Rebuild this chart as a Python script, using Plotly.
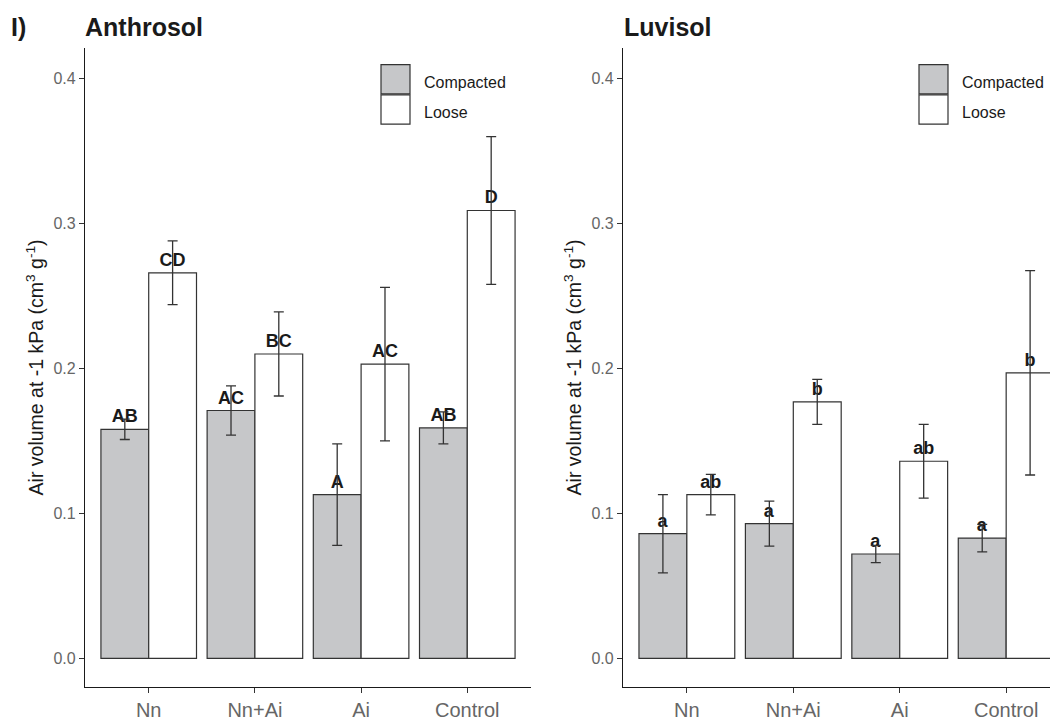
import plotly.graph_objects as go

# The page body has an 8px margin, so the figure is drawn 8px in from the window edge.
OFF = 8
W, H = 1058 - OFF, 721 - OFF

categories = ["Nn", "Nn+Ai", "Ai", "Control"]
groups = ["Compacted", "Loose"]

# Anthrosol
anth_compacted = [0.158, 0.171, 0.113, 0.159]
anth_compacted_err = [0.007, 0.017, 0.035, 0.011]
anth_loose = [0.266, 0.210, 0.203, 0.309]
anth_loose_err = [0.022, 0.029, 0.053, 0.051]
anth_compacted_lbl = ["AB", "AC", "A", "AB"]
anth_loose_lbl = ["CD", "BC", "AC", "D"]

# Luvisol
luv_compacted = [0.086, 0.093, 0.072, 0.083]
luv_compacted_err = [0.027, 0.0155, 0.006, 0.0095]
luv_loose = [0.113, 0.177, 0.136, 0.197]
luv_loose_err = [0.014, 0.0155, 0.0255, 0.0705]
luv_compacted_lbl = ["a", "a", "a", "a"]
luv_loose_lbl = ["ab", "b", "ab", "b"]

y_ticks = [0.0, 0.1, 0.2, 0.3, 0.4]

FILL = {"Compacted": "#C6C7C9", "Loose": "#FFFFFF"}
EDGE = "#333333"
FONT = "Liberation Sans, Arial, sans-serif"
TICKCOL = "#666666"


def px(x):
    return (x - OFF) / W


def py(y):
    return 1 - (y - OFF) / H


xs = list(range(len(categories)))

fig = go.Figure()

panels = [
    ("x", "y", [anth_compacted, anth_loose], [anth_compacted_err, anth_loose_err],
     [anth_compacted_lbl, anth_loose_lbl]),
    ("x2", "y2", [luv_compacted, luv_loose], [luv_compacted_err, luv_loose_err],
     [luv_compacted_lbl, luv_loose_lbl]),
]

for xa, ya, vals, errs, lbls in panels:
    for g, v, e, l in zip(groups, vals, errs, lbls):
        fig.add_trace(go.Bar(
            x=xs, y=v, name=g, xaxis=xa, yaxis=ya, offsetgroup=g,
            marker=dict(color=FILL[g], line=dict(color=EDGE, width=1.2)),
            error_y=dict(type="data", array=e, color=EDGE, thickness=1.3, width=5),
            text=l, textposition="outside", cliponaxis=False, constraintext="none",
            textfont=dict(family=FONT, size=18, color="#1a1a1a", weight="bold"),
            showlegend=False,
        ))

yax = dict(
    range=[-0.0199, 0.4213], tickvals=y_ticks, ticktext=[f"{t:.1f}" for t in y_ticks],
    showline=True, linecolor="#1a1a1a", linewidth=1.2, ticks="outside", ticklen=5,
    tickcolor="#333333", tickwidth=1, showgrid=False, zeroline=False,
    tickfont=dict(family=FONT, size=16, color=TICKCOL),
    title=dict(text="Air volume at -1 kPa (cm<sup>3</sup> g<sup>-1</sup>)",
               font=dict(family=FONT, size=19.5, color="#1a1a1a"), standoff=4),
    domain=[py(692), py(48)],
)
xax = dict(
    tickvals=xs, ticktext=categories, showline=True, linecolor="#1a1a1a", linewidth=1.2,
    ticks="outside", ticklen=5, tickcolor="#333333", tickwidth=1, showgrid=False,
    zeroline=False, tickfont=dict(family=FONT, size=20, color=TICKCOL),
)

fig.update_layout(
    width=W, height=H, margin=dict(l=0, r=0, t=0, b=0),
    paper_bgcolor="white", plot_bgcolor="white",
    barmode="group", bargap=0.1, bargroupgap=0,
    xaxis=dict(xax, domain=[px(85), px(531)], range=[-0.6, 3.6], anchor="y"),
    yaxis=dict(yax, anchor="x"),
    xaxis2=dict(xax, domain=[px(623), 1.0], range=[-0.6, 3.487], anchor="y2"),
    yaxis2=dict(yax, anchor="x2"),
    showlegend=False,
)

# panel titles
fig.add_annotation(x=px(9), y=py(27), xref="paper", yref="paper", text="<b>I)</b>",
                   showarrow=False, xanchor="left", yanchor="middle",
                   font=dict(family=FONT, size=25, color="#1a1a1a"))
for x0, t in [(83, "Anthrosol"), (622, "Luvisol")]:
    fig.add_annotation(x=px(x0), y=py(27), xref="paper", yref="paper", text=f"<b>{t}</b>",
                       showarrow=False, xanchor="left", yanchor="middle",
                       font=dict(family=FONT, size=25, color="#1a1a1a"))

# legends (one per panel)
for lx in [381, 919]:
    for i, g in enumerate(groups):
        y0 = 65 + i * 30.5
        fig.add_shape(type="rect", xref="paper", yref="paper",
                      x0=px(lx), x1=px(lx + 29), y0=py(y0), y1=py(y0 + 29.5),
                      fillcolor=FILL[g], line=dict(color=EDGE, width=1.2))
        fig.add_annotation(x=px(lx + 41), y=py(y0 + 18), xref="paper", yref="paper",
                           text=g, showarrow=False, xanchor="left", yanchor="middle",
                           font=dict(family=FONT, size=16, color="#1a1a1a"))

fig.write_html("out.html")
